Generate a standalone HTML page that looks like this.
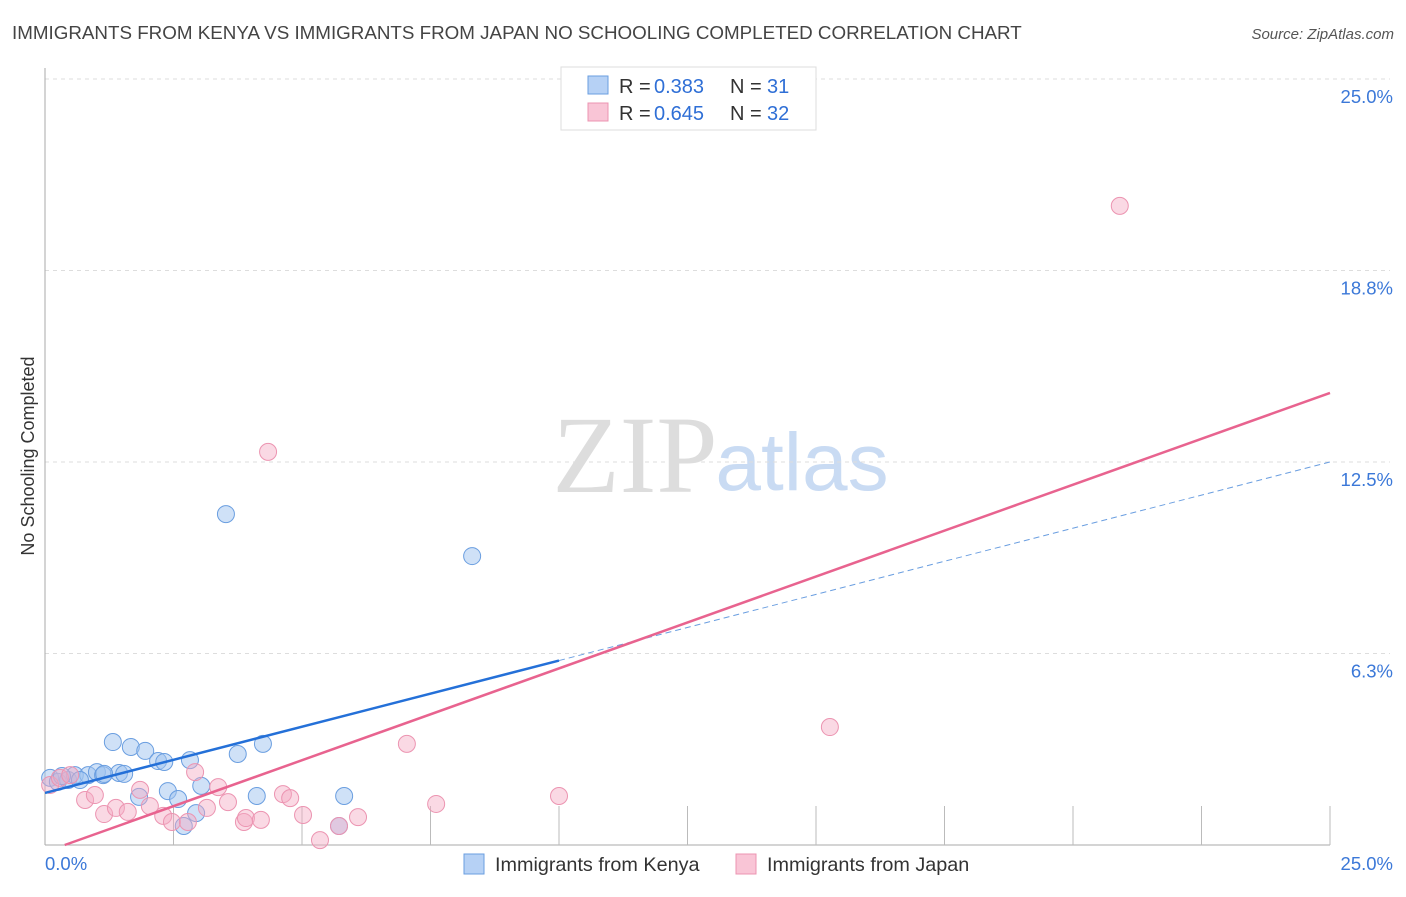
<!DOCTYPE html>
<html><head><meta charset="utf-8"><style>
body{margin:0;background:#fff;font-family:"Liberation Sans",sans-serif}
</style></head><body>
<svg id="c" width="1406" height="892" xmlns="http://www.w3.org/2000/svg" font-family="Liberation Sans, sans-serif">
<text x="12" y="39" font-size="18.8" fill="#444">IMMIGRANTS FROM KENYA VS IMMIGRANTS FROM JAPAN NO SCHOOLING COMPLETED CORRELATION CHART</text>
<text x="1394" y="39" font-size="15" fill="#555" font-style="italic" text-anchor="end">Source: ZipAtlas.com</text>
<text transform="translate(34,456) rotate(-90)" font-size="18" fill="#333" text-anchor="middle">No Schooling Completed</text>
<g><text x="635" y="492" font-size="110" fill="#ddd" font-family="Liberation Serif, serif" text-anchor="middle">ZIP</text><text x="802" y="490" font-size="82" fill="#c9dbf3" text-anchor="middle">atlas</text></g>
<g id="grid"></g><g id="marks"></g>
<g>
<rect x="561" y="67" width="255" height="63" fill="#fff" stroke="#ddd"/>
<rect x="588" y="76" width="20" height="18" fill="#b6d1f5" stroke="#6a9ee0"/>
<rect x="588" y="103" width="20" height="18" fill="#f9c5d6" stroke="#ec94b1"/>
<text x="619" y="93" font-size="20" fill="#333">R =</text><text x="654" y="93" font-size="20" fill="#2f6fd6">0.383</text>
<text x="730" y="93" font-size="20" fill="#333">N =</text><text x="767" y="93" font-size="20" fill="#2f6fd6">31</text>
<text x="619" y="120" font-size="20" fill="#333">R =</text><text x="654" y="120" font-size="20" fill="#2f6fd6">0.645</text>
<text x="730" y="120" font-size="20" fill="#333">N =</text><text x="767" y="120" font-size="20" fill="#2f6fd6">32</text>
</g>
<g>
<rect x="464" y="854" width="20" height="20" fill="#b6d1f5" stroke="#6a9ee0"/>
<text x="495" y="871" font-size="19.8" fill="#333">Immigrants from Kenya</text>
<rect x="736" y="854" width="20" height="20" fill="#f9c5d6" stroke="#ec94b1"/>
<text x="767" y="871" font-size="19.8" fill="#333">Immigrants from Japan</text>
</g>
</svg>
<script>
const yTicks=[6.25,12.5,18.75,25];
const yTickLabels=["6.3%","12.5%","18.8%","25.0%"];
const kenyaX=[0.10,0.25,0.45,0.58,0.84,1.01,1.13,1.32,1.44,1.54,1.67,1.95,2.20,2.32,2.39,2.59,2.70,2.82,2.94,3.04,3.52,3.75,4.12,4.24,5.72,5.82,8.31,1.83,1.15,0.68,0.33];
const kenyaY=[2.19,2.06,2.12,2.28,2.28,2.38,2.28,3.36,2.35,2.32,3.20,3.07,2.74,2.71,1.76,1.50,0.62,2.77,1.04,1.93,10.80,2.97,1.60,3.30,0.62,1.60,9.43,1.57,2.32,2.12,2.25];
const japanX=[0.10,0.29,0.49,0.78,0.97,1.15,1.38,1.61,1.85,2.04,2.30,2.47,2.78,2.92,3.15,3.37,3.56,3.87,3.91,4.20,4.34,4.63,4.77,5.02,5.35,5.72,6.09,7.04,7.61,10.00,15.27,20.91];
const japanY=[1.96,2.19,2.28,1.47,1.63,1.01,1.21,1.08,1.80,1.27,0.95,0.75,0.75,2.38,1.21,1.89,1.40,0.75,0.88,0.82,12.83,1.66,1.53,0.98,0.16,0.62,0.91,3.30,1.34,1.60,3.85,20.86];
const kenyaTrend=[1.70,0.432];
const japanTrend=[-0.23,0.5994];
const kenyaSolidEnd=10.0;
const NS="http://www.w3.org/2000/svg";
const X=v=>45+v/25*1285, Y=v=>845-v/25*766;
function mk(t,a,p){const e=document.createElementNS(NS,t);for(const k in a)e.setAttribute(k,a[k]);p.appendChild(e);return e;}
const g=document.getElementById('grid'), m=document.getElementById('marks');
yTicks.forEach((t,i)=>{
 const l=mk('line',{x1:45,x2:1390,y1:Y(t),y2:Y(t),stroke:'#ddd','stroke-dasharray':'4,4'},g);
 
 
 const tx=mk('text',{x:1393,y:Y(t)+24,'font-size':18.5,fill:'#3b78d8','text-anchor':'end'},g);tx.textContent=yTickLabels[i];
 
 
});
const ax=mk('line',{x1:45,x2:1330,y1:845,y2:845,stroke:'#aaa'},g);


const ay=mk('line',{x1:45,x2:45,y1:68,y2:845,stroke:'#aaa'},g);


for(let i=1;i<=10;i++){const tk=mk('line',{x1:X(i*2.5),x2:X(i*2.5),y1:806,y2:845,stroke:'#bbb'},g);
 
 }
const l0=mk('text',{x:45,y:870,'font-size':18.5,fill:'#3b78d8'},g);l0.textContent='0.0%';


const l1=mk('text',{x:1393,y:870,'font-size':18.5,fill:'#3b78d8','text-anchor':'end'},g);l1.textContent='25.0%';


kenyaX.forEach((x,i)=>{const c=mk('circle',{cx:X(x),cy:Y(kenyaY[i]),r:8.5,fill:'rgba(160,195,240,0.5)',stroke:'#6a9ee0','stroke-width':1},m);
 
 });
japanX.forEach((x,i)=>{const c=mk('circle',{cx:X(x),cy:Y(japanY[i]),r:8.5,fill:'rgba(245,170,195,0.45)',stroke:'#ec94b1','stroke-width':1},m);
 
 });
const kl=mk('line',{x1:X(0),y1:Y(kenyaTrend[0]),x2:X(kenyaSolidEnd),y2:Y(kenyaTrend[0]+kenyaTrend[1]*kenyaSolidEnd),stroke:'#2470d8','stroke-width':2.5},m);


const kd=mk('line',{x1:X(kenyaSolidEnd),y1:Y(kenyaTrend[0]+kenyaTrend[1]*kenyaSolidEnd),x2:X(25),y2:Y(kenyaTrend[0]+kenyaTrend[1]*25),stroke:'#6a9ee0','stroke-width':1,'stroke-dasharray':'6,4'},m);


const x0=-japanTrend[0]/japanTrend[1];
const jl=mk('line',{x1:X(x0),y1:Y(0),x2:X(25),y2:Y(japanTrend[0]+japanTrend[1]*25),stroke:'#e8638f','stroke-width':2.5},m);


</script>
</body></html>
